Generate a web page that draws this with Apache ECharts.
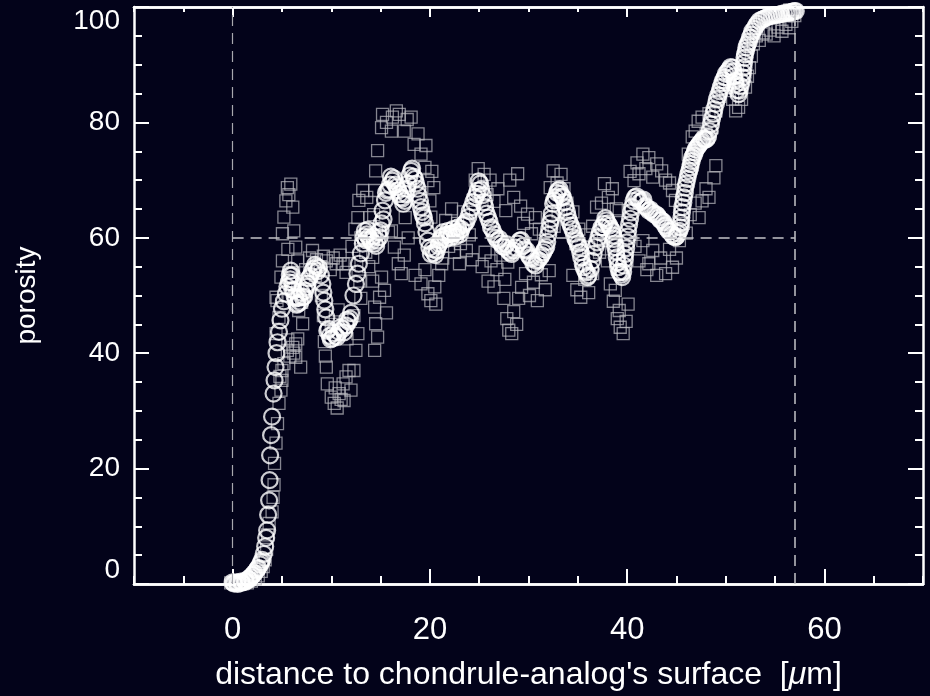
<!DOCTYPE html>
<html>
<head>
<meta charset="utf-8">
<title>porosity profile</title>
<script src="https://cdn.jsdelivr.net/npm/echarts@6/dist/echarts.min.js"></script>
<style>
  html, body { margin: 0; padding: 0; background: #03031a; }
  #chart { width: 930px; height: 696px; }
</style>
</head>
<body>
<div id="chart"></div>
<script>
// axis ranges and ticks
const xRange = [-10, 70]
const xMajor = [0, 20, 40, 60]
const xMinorStep = 5
const yTicks = [0, 100, 20]   // min, max, step

// reference lines: x = 0, x = 57, y = 60 (from 0 to 57)
const guideX = [0, 57]
const guideY = 60

// raw measurements (grey squares), [distance µm, porosity]
const rawPoints = [
  [-0.2,0.2],[0.3,0],[0.7,0.1],[1.1,0.3],[1.5,0.2],[1.9,0.5],[2.3,0.9],[2.6,1.4],[2.9,2.2],[3.1,3],[3.3,4.2],[3.45,6],
  [3.55,8.5],[3.7,10.5],[4.0,12.5],[4.1,15],[4.2,17.2],[4.25,20.9],[4.4,24.4],[4.55,27.8],[4.7,31.3],[4.9,33.6],[5.0,35.3],[5.2,38.2],[5.0,37],[4.8,36],
  [4.4,43.4],[4.5,49.1],[4.7,46.2],[4.4,49.7],[4.9,53.2],[5.05,56],[5.05,60.7],[5.2,63.6],[5.4,66.4],[5.55,68.7],[5.9,69.3],[5.7,67.5],[6.1,65.3],[6.2,61.2],[6.4,58.4],[6.6,56],[5.6,58],[5.9,54],
  [5.55,40.5],[5.8,39.5],[6.1,41],[6.4,41.6],[6.4,39.3],[6.9,37.6],[6.2,40],[5.6,42.3],[6.6,42.5],
  [6.6,50.9],[6.7,47.4],[7.1,45.1],[7.0,48.8],
  [7.4,54.5],[7.8,56.5],[8.1,57.8],[8.5,56.2],[8.9,55],[9.2,56.8],[9.5,56],[9.9,54.5],[10.2,56.5],[10.5,55.5],[10.9,57],[11.2,55.5],[11.5,54],[7.6,52.8],[8.4,53.5],
  [9.0,50],[9.2,46.5],[9.3,42],[9.4,39.5],
  [9.5,37.6],[9.6,34.7],[10.0,32.4],[10.3,31.3],[10.6,30.5],[10.8,33],[11.0,32],[11.2,34.7],[11.5,35.9],[11.8,37],[10.4,34],[11.3,31.8],[12.0,33.6],[12.3,37],[12.5,40.5],[12.7,43.4],
  [10.0,45],[10.7,47.5],[11.6,42.5],[12.3,46.5],[13.0,49.5],[12.9,52.5],
  [11.8,55.5],[12.1,58.5],[12.4,61.5],[12.7,63.5],[12.8,66.5],[13.2,68.2],[13.6,67],[13.0,60],[13.5,57.5],[13.9,63.5],
  [13.8,55],[14.2,52.5],[14.4,48],[14.5,45.1],[14.4,40.5],[14.7,42.8],[14.9,49.7],[15.1,53.2],[15.4,50.9],[15.6,47],
  [14.2,56.6],[14.2,60.1],[14.3,64],[14.4,68.2],[14.5,71.6],[14.7,75.1],[15.1,79.1],[15.2,81.4],[15.6,80],[16.1,78.5],[16.2,80.9],[16.6,82],[16.9,81.4],[17.4,78.5],[17.7,80.5],[18.1,80.9],[18.4,76.2],[18.8,78],[19.1,74.5],[19.5,72.2],[19.8,69.9],[20.0,66.4],[20.1,63.6],[19.6,76],[20.2,71.5],[20.4,68.7],
  [15.8,61],[16.1,61.2],[16.4,58.4],[16.8,55.5],[17.1,53.8],[17.4,57],[17.8,60],[17.5,63.5],
  [18.5,53.5],[19.1,52],[19.5,54.5],[19.8,50.3],[20.1,49.1],[20.5,51.5],[20.9,53.5],[21.2,55.5],[20.6,48.5],
  [21.3,56.5],[21.6,63],[21.9,58.5],[22.2,65],[22.5,57.5],[22.8,62.5],[23.1,59],[23.4,64.5],[23.7,57.8],[24.0,60.5],[23.0,55.5],[24.3,56.2],
  [24.4,66.5],[24.6,70],[24.9,72],[25.2,68.5],[25.5,71],[25.8,67.5],[26.1,70],[26.5,66.3],[26.9,68.5],
  [25.3,55],[25.6,57.5],[25.9,52.5],[26.2,56],[26.5,51.5],[26.8,54.5],[27.2,57],[27.6,52.8],[27.9,55.8],
  [27.5,49.5],[27.8,46],[28.0,44],[28.3,43.4],[28.5,47.2],[28.8,45],[29.0,49.5],[29.3,51.4],
  [27.7,64.7],[28.1,70],[28.5,67],[28.9,71.1],[29.2,65.5],[29.5,62.5],[29.9,64.1],[30.3,60.7],[30.7,63.5],[31.1,61.5],
  [29.7,53.8],[30.1,50],[30.5,52.3],[30.9,49.1],[31.3,53.6],[31.7,51],[32.1,54.3],
  [32.2,68.7],[32.5,71.6],[32.9,69.5],[33.3,71],[33.6,68.5],[32.6,62],[33.0,64.5],
  [33.9,66],[34.2,62.5],[34.5,64.5],[34.8,59],[35.1,61.5],[35.4,57.8],[35.8,60.5],[36.1,58.3],[36.5,62],[36.9,65.3],
  [34.5,53.5],[34.9,51],[35.3,49.7],[35.7,52.8],[36.1,50.5],[36.5,53.8],
  [37.4,66],[37.7,69.4],[38.1,67],[38.5,68.5],[38.9,65],[39.2,64.7],
  [37.2,57.5],[37.6,59.5],[38.0,56],
  [38.3,52],[38.6,49],[38.8,50.9],[39.0,46],[39.2,47.4],[39.3,44.5],[39.6,43.4],[39.9,45.5],[40.1,48.5],
  [40.3,71.5],[40.7,69.9],[41.0,73],[41.2,71.1],[41.6,74.5],[41.9,72],[42.2,73.9],[42.6,70.5],[43.0,72.8],[43.5,71.6],[43.9,70],[44.3,69.5],[44.6,68.2],[44.9,66.5],
  [40.8,58.5],[41.2,56],[41.6,59.5],[42.0,54.5],[42.2,55.5],[42.6,57.8],[43.0,53.5],[43.4,56.5],[43.9,53.8],[44.3,58],[44.6,54.9],[45.0,56.5],[45.3,59.5],
  [45.7,62.5],[46.0,60.8],[46.4,64],[46.9,66],[47.3,63.5],[47.6,66.4],[48.0,68.5],[48.3,67],[48.8,70.4],[49.0,72.5],
  [46.2,74.5],[46.6,77.5],[46.9,78.5],[47.2,80.2],[47.6,80.9],[48.0,78],[48.3,81.5],[48.6,79.1],[49.0,82],
  [49.4,84.5],[49.7,87],[50.0,85.5],[50.4,86.6],[50.7,84],[51.0,82],[51.3,82.6],[51.6,84],[52.0,86.1],[52.2,88],[52.4,89.5],[52.6,91.5],
  [52.8,93.6],[53.1,95],[53.4,94.2],[53.8,95.5],[54.1,95.3],[54.5,96],[54.9,95],[55.3,96.5],[55.7,95.8],[56.1,97],[56.4,96.4],[56.7,97.5],[57.0,98.5],[55.0,98.5],[56.5,99.5]
]

// running mean (white circles), [distance µm, porosity]
const meanPoints = [
  [0,0.3],[0.2,0.2],[0.4,0.3],[0.6,0.2],[0.8,0.4],[1.0,0.3],[1.2,0.5],[1.4,0.6],[1.6,0.9],[1.8,1.2],[2.0,1.5],[2.2,1.9],[2.4,2.3],[2.6,2.8],[2.8,3.4],[3.0,4.2],[3.15,5.2],[3.3,6.5],[3.4,8.0],
  [3.5,9.3],[3.6,12],[3.7,14.5],[3.75,18],[3.8,22.3],[3.9,25.8],[4.0,29],[4.15,33],[4.25,35.3],[4.35,37.6],[4.45,40],[4.55,41.9],[4.7,43.7],[4.85,45.7],[5.0,47.7],[5.2,49],[5.4,50.3],[5.55,51.5],[5.7,52.3],[5.8,53.5],[5.9,54.3],
  [6.0,53.5],[6.1,52.2],[6.2,50.9],[6.4,49.5],[6.6,48.6],[6.85,48.8],[7.1,49.7],[7.35,50.8],[7.6,52],[7.9,53.4],[8.2,54.6],[8.5,55],[8.75,54.8],[8.95,53.5],[9.1,52],[9.2,50.5],[9.3,49.1],[9.4,47.6],[9.5,46.2],[9.6,43.9],[9.85,43],[10.1,42.6],[10.45,43],[10.8,43.7],[11.15,44.2],[11.5,44.8],[11.75,45.5],
  [12.0,47],[12.25,50],[12.5,52],[12.65,53.8],[12.8,55.5],[13.0,57.3],[13.2,59],[13.4,61.2],[13.6,60.6],[13.8,60.1],[14.1,59.4],[14.4,59],[14.65,59.5],[14.9,60.1],[15.0,61.3],[15.1,62.5],[15.2,64.7],[15.45,66.5],[15.7,68.2],[15.95,69.2],[16.2,69.9],[16.5,69.2],[16.8,68.2],[17.05,67],[17.3,65.9],[17.55,67.6],[17.8,69.4],[18.1,71.6],[18.35,70.6],[18.6,69.4],[18.85,67.4],[19.1,65.3],[19.3,63.9],[19.5,62.5],[19.65,61],[19.8,59.5],[19.95,58.3],
  [20.1,57.2],[20.4,57.4],[20.7,57.8],[20.95,59],[21.2,60.1],[21.45,60.4],[21.7,60.5],[21.95,60.6],[22.2,60.7],[22.45,60.9],[22.7,61],[22.95,61.1],[23.2,61.5],[23.55,62.5],[23.9,63.6],[24.25,65.3],[24.6,67],[24.85,68.2],[25.1,69.4],[25.35,67.4],[25.6,65.3],[25.9,63.5],[26.2,61.8],[26.55,60.6],[26.9,59.5],[27.25,59],[27.6,58.4],[27.95,57.8],[28.3,57.2],[28.7,58.3],[29.1,59.5],[29.45,58.6],[29.8,57.8],
  [30.15,56.6],[30.5,55.5],[30.85,56],[31.2,56.6],[31.5,57.5],[31.8,58.4],[32.0,60.5],[32.2,62.5],[32.35,64.2],[32.5,65.9],[32.75,67],[33.0,68.2],[33.25,67.6],[33.5,67],[33.75,65.3],[34.0,63.6],[34.3,62.1],[34.6,60.7],[34.85,59.5],[35.1,58.4],[35.35,56.6],[35.6,54.9],[35.85,54],[36.1,53.5],[36.45,56],[36.8,58.4],[37.1,60.1],[37.4,61.8],[37.65,62.4],[37.9,63],[38.2,62.1],[38.5,61.2],[38.65,59.8],[38.8,58.4],[38.95,56.6],[39.1,54.9],[39.3,54],[39.5,53.2],[39.65,55.2],[39.8,57.2],[39.95,59.2],
  [40.1,61.2],[40.3,63.3],[40.5,65.3],[40.8,67],[41.15,66.7],[41.5,66.4],[41.85,65.5],[42.2,64.7],[42.55,64.4],[42.9,64.1],[43.2,63.5],[43.5,63],[43.85,62.1],[44.2,61.2],[44.55,60.6],[44.9,60.1],[45.15,60.8],[45.4,61.8],[45.5,63.5],[45.6,65.3],[45.75,67],[45.9,68.7],[46.1,70.2],[46.3,71.6],[46.45,72.8],[46.6,73.9],[46.85,74.8],[47.1,75.7],[47.35,76.3],[47.6,76.8],[47.9,77],[48.2,77.5],[48.5,79.7],[48.75,81.5],[49.0,83.2],[49.25,84.7],[49.5,86.1],[49.75,87.3],
  [50.0,88.4],[50.35,89.2],[50.7,89.5],[50.85,88],[51.0,86.6],[51.3,84.9],[51.5,86.3],[51.7,87.8],[51.8,89.5],[51.9,91.2],[52.05,92.4],[52.2,93.5],[52.45,94.7],[52.7,95.8],[53.05,96.7],[53.4,97.6],[53.9,98],[54.4,98.4],[54.9,98.6],[55.4,98.7],[55.9,98.9],[56.4,99],[56.75,99.2],[57.1,99.3],
  // second pass of samples, read between the ones above where the band is solid
  [0.1,0.1],[0.5,0.0],[0.9,0.2],[1.3,0.4],[1.7,0.8],[2.1,1.6],[2.5,2.6],[2.9,3.8],
  [5.85,52.8],[6.05,51],[6.3,49.8],[6.5,48.4],[6.7,49.6],[7.0,50.5],[7.25,49.8],[7.5,51.5],[7.75,53],[8.05,54.2],[8.35,55.3],[8.6,54.2],
  [9.7,44.2],[9.95,42.4],[10.25,43.5],[10.6,42.8],[10.95,44.5],[11.3,43.6],[11.6,45.8],[11.9,46],
  [13.3,60.2],[13.5,59.6],[13.7,61.4],[13.95,59.7],[14.25,60.2],[14.55,58.6],[14.8,61],[15.3,63.2],[15.55,67.8],[15.85,68.4],[16.05,70.6],[16.35,70.3],[16.65,68.8],[16.95,67.6],[17.2,66.8],[17.45,66.4],[17.7,68.5],[17.95,70.8],[18.2,72],[18.5,70.2],[18.75,68.5],[19.0,66.4],[19.2,64.5],[19.4,63.5],
  [20.25,58.0],[20.55,57.0],[20.85,58.6],[21.1,59.6],[21.35,61.0],[21.6,59.8],[21.85,61.2],[22.1,60.1],[22.35,61.5],[22.6,60.2],[22.85,61.8],[23.05,60.6],[23.4,62.2],[23.7,62.8],[24.05,64.6],[24.4,66.2],[24.75,67.6],[24.95,69.8],
  [25.2,68.4],[25.5,66.2],[25.75,64.2],[26.05,62.8],[26.35,61.4],[26.7,60],[27.05,59.8],[27.4,58.5],[27.75,58.9],[28.1,57.5],[28.5,57.8],[28.9,59],[29.25,59.6],[29.6,58],[30.0,57],[30.3,56.4],[30.7,55.2],
  [31.0,56.2],[31.35,57],[31.65,58],[31.9,59.3],[32.1,61.5],[32.3,63.3],[32.6,66.5],[32.9,67.8],[33.15,68.4],[33.4,67.2],[33.65,66.2],[33.9,64.5],[34.15,62.8],[34.45,61.5],[34.75,59.9],[35.0,59],[35.25,57.5],[35.5,55.5],[35.75,54.3],[36.0,53.2],[36.3,54.6],[36.6,57.2],[36.95,59.2],
  [37.25,61],[37.55,61.8],[37.8,63.4],[38.05,62.5],[38.35,61.6],[38.6,60.4],[38.75,59],[38.9,57.6],[39.05,55.7],[39.2,54.1],[39.4,53.6],[39.6,54.1],[39.75,56.3],[39.9,58.2],[40.05,60.2],[40.2,62.3],[40.4,64.4],[40.65,66.4],
  [40.95,67.2],[41.3,66.2],[41.65,66.6],[42.0,65.2],[42.35,64.9],[42.7,64.1],[43.05,63.9],[43.35,63.1],[43.7,62.7],[44.0,61.7],[44.35,61.1],[44.7,60.2],[45.05,60.3],[45.3,61.2],[45.45,62.6],[45.55,64.4],[45.7,66.1],[45.85,67.8],[46.0,69.4],[46.2,71],[46.4,72.2],[46.55,73.3],[46.75,74.3],[46.95,75.3],[47.25,76],[47.5,76.6],[47.75,77.2],[48.05,77.1],[48.35,78.5],[48.6,80.6],[48.85,82.3],[49.1,84],[49.4,85.4],[49.65,86.8],[49.9,87.8],
  [50.2,88.8],[50.5,89.6],[50.8,88.8],[50.95,87.2],[51.15,85.6],[51.4,85.5],[51.6,87],[51.75,88.6],[51.85,90.3],[51.95,91.8],[52.1,93],[52.35,94],[52.6,95.2],[52.9,96.2],[53.2,97.1],[53.65,97.8],[54.15,98.2],[54.65,98.5],[55.15,98.6],[55.65,98.8],[56.15,99],[56.6,99.1],[56.95,99.3]
]

const font = '"Liberation Sans", Arial, sans-serif'
const white = '#ffffff'
const guideColor = '#c4c4c8'

const chart = echarts.init(document.getElementById('chart'))

// every axis draws one side of the white frame; ticks point inward
function frameAxis(extra) {
  return Object.assign({
    type: 'value',
    axisLine: { show: true, onZero: false, lineStyle: { color: white, width: 2.5 } },
    axisTick: { show: true, inside: true, length: 15, lineStyle: { color: white, width: 2 } },
    minorTick: { show: false },
    axisLabel: { show: false },
    splitLine: { show: false },
    minorSplitLine: { show: false }
  }, extra)
}

function tick(len, values) {
  const t = { show: true, inside: true, length: len, lineStyle: { color: white, width: 2 } }
  if (values) t.customValues = values
  return t
}

const option = {
  backgroundColor: '#03031a',
  animation: false,
  grid: { left: 134, right: 7, top: 7, bottom: 111, containLabel: false },
  xAxis: [
    // bottom, major ticks + labels + title
    frameAxis({
      min: xRange[0], max: xRange[1],
      position: 'bottom',
      axisTick: tick(15, xMajor),
      axisLabel: {
        show: true, customValues: xMajor,
        color: white, fontFamily: font, fontSize: 31, margin: 31
      },
      name: "distance to chondrule-analog's surface  [{i|\u03bc}m]",
      nameLocation: 'middle',
      nameGap: 75,
      nameTextStyle: {
        color: white, fontFamily: font, fontSize: 32,
        rich: { i: { fontStyle: 'italic', fontFamily: font, fontSize: 32, color: white } }
      }
    }),
    // bottom, minor ticks
    frameAxis({
      min: xRange[0], max: xRange[1], interval: xMinorStep,
      position: 'bottom',
      axisTick: tick(8)
    }),
    // top, major ticks
    frameAxis({
      min: xRange[0], max: xRange[1],
      position: 'top',
      axisTick: tick(10, xMajor)
    }),
    // top, minor ticks
    frameAxis({
      min: xRange[0], max: xRange[1], interval: xMinorStep,
      position: 'top',
      axisTick: tick(5)
    })
  ],
  yAxis: [
    frameAxis({
      min: yTicks[0], max: yTicks[1], interval: yTicks[2],
      position: 'left',
      minorTick: { show: true, splitNumber: 4, length: 8, lineStyle: { color: white, width: 2 } },
      axisLabel: {
        show: true,
        color: white, fontFamily: font, fontSize: 28, margin: 14,
        verticalAlignMinLabel: 'bottom', verticalAlignMaxLabel: 'top'
      },
      name: 'porosity',
      nameLocation: 'middle',
      nameGap: 93,
      nameTextStyle: { color: white, fontFamily: font, fontSize: 28 }
    }),
    frameAxis({
      min: yTicks[0], max: yTicks[1], interval: yTicks[2],
      position: 'right',
      minorTick: { show: true, splitNumber: 4, length: 8, lineStyle: { color: white, width: 2 } }
    })
  ],
  series: [
    {
      name: 'raw',
      type: 'scatter',
      data: rawPoints,
      symbol: 'rect',
      symbolSize: 12,
      itemStyle: { color: 'rgba(0,0,0,0)', borderColor: 'rgba(185,185,190,0.9)', borderWidth: 1.3 },
      markLine: {
        silent: true,
        symbol: 'none',
        label: { show: false },
        lineStyle: { color: guideColor, width: 1.5, type: [11, 7] },
        data: [
          [{ coord: [guideX[0], yTicks[0]], lineStyle: { color: '#a8a8ae', width: 1.2 } }, { coord: [guideX[0], yTicks[1]] }],
          [{ coord: [guideX[1], yTicks[0]] }, { coord: [guideX[1], yTicks[1]] }],
          [{ coord: [guideX[0], guideY] }, { coord: [guideX[1], guideY] }]
        ]
      },
      z: 2
    },
    {
      name: 'mean',
      type: 'scatter',
      data: meanPoints,
      symbol: 'circle',
      symbolSize: 16,
      itemStyle: { color: 'rgba(0,0,0,0)', borderColor: white, borderWidth: 2.2 },
      z: 3
    }
  ]
}

chart.setOption(option)
</script>
</body>
</html>
